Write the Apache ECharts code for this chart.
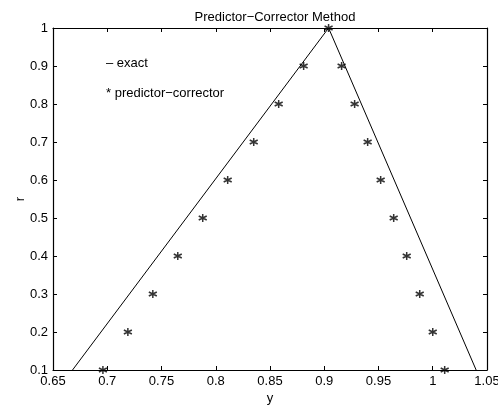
<!DOCTYPE html>
<html>
<head>
<meta charset="utf-8">
<script src="https://cdn.jsdelivr.net/npm/echarts@6/dist/echarts.min.js"></script>
<style>
html, body { margin: 0; padding: 0; background: #fff; }
#chart { width: 498px; height: 405px; }
</style>
</head>
<body>
<div id="chart"></div>
<script>
// exact solution (straight lines)
var exactY = [0.668, 0.904, 1.040]
var exactR = [0.1, 1.0, 0.1]
// predictor-corrector points
var pcY = [0.696, 0.719, 0.742, 0.765, 0.788, 0.811, 0.835, 0.858, 0.881, 0.904,
           0.916, 0.928, 0.940, 0.952, 0.964, 0.976, 0.988, 1.000, 1.011]
var pcR = [0.1, 0.2, 0.3, 0.4, 0.5, 0.6, 0.7, 0.8, 0.9, 1.0,
           0.9, 0.8, 0.7, 0.6, 0.5, 0.4, 0.3, 0.2, 0.1]

var font = "'Liberation Sans', Arial, sans-serif"
var fsize = 13
var star = "path://M0,-5L0,5M-4.33,-2.5L4.33,2.5M-4.33,2.5L4.33,-2.5"

function fmt(v) {
    return String(parseFloat(v.toFixed(2)))
}

var chart = echarts.init(document.getElementById("chart"))

var baseAxis = {
    axisLine: { show: true, onZero: false, lineStyle: { color: "#000", width: 1.2 } },
    axisTick: { show: true, inside: true, length: 4, lineStyle: { color: "#000" } },
    splitLine: { show: false }
}

chart.setOption({
    animation: false,
    backgroundColor: "#fff",
    title: {
        text: "Predictor\u2212Corrector Method",
        left: 270,
        textAlign: "center",
        top: 6,
        textStyle: { fontFamily: font, fontSize: fsize, fontWeight: "normal", color: "#000" }
    },
    grid: { left: 53, right: 11, top: 28, bottom: 35, containLabel: false, outerBoundsMode: "none" },
    xAxis: [
        Object.assign({}, baseAxis, {
            type: "value", min: 0.65, max: 1.05, interval: 0.05,
            name: "y", nameLocation: "middle", nameGap: 22, nameMoveOverlap: false,
            nameTextStyle: { fontFamily: font, fontSize: fsize, color: "#000" },
            axisLabel: { formatter: fmt, margin: 5, fontFamily: font, fontSize: fsize, color: "#000" }
        }),
        Object.assign({}, baseAxis, {
            type: "value", position: "top", min: 0.65, max: 1.05, interval: 0.05,
            axisLabel: { show: false }
        })
    ],
    yAxis: [
        Object.assign({}, baseAxis, {
            type: "value", min: 0.1, max: 1, interval: 0.1,
            name: "r", nameLocation: "middle", nameGap: 26, nameMoveOverlap: false,
            nameTextStyle: { fontFamily: font, fontSize: fsize, color: "#000" },
            axisLabel: { formatter: fmt, margin: 5, fontFamily: font, fontSize: fsize, color: "#000" }
        }),
        Object.assign({}, baseAxis, {
            type: "value", position: "right", min: 0.1, max: 1, interval: 0.1,
            axisLabel: { show: false }
        })
    ],
    graphic: [
        {
            type: "text", left: 106, top: 57,
            style: { text: "\u2013 exact", fontFamily: font, fontSize: fsize, fill: "#000" }
        },
        {
            type: "text", left: 106, top: 87,
            style: { text: "* predictor\u2212corrector", fontFamily: font, fontSize: fsize, fill: "#000" }
        }
    ],
    series: [
        {
            name: "exact",
            type: "line",
            data: exactY.map(function(y, i) { return [y, exactR[i]] }),
            showSymbol: false,
            symbol: "none",
            lineStyle: { color: "#000", width: 1 },
            clip: true
        },
        {
            name: "predictor-corrector",
            type: "scatter",
            data: pcY.map(function(y, i) { return [y, pcR[i]] }),
            symbol: star,
            symbolSize: 8,
            itemStyle: { color: "#000", borderColor: "#000", borderWidth: 1.5 },
            clip: false
        }
    ]
})
</script>
</body>
</html>
